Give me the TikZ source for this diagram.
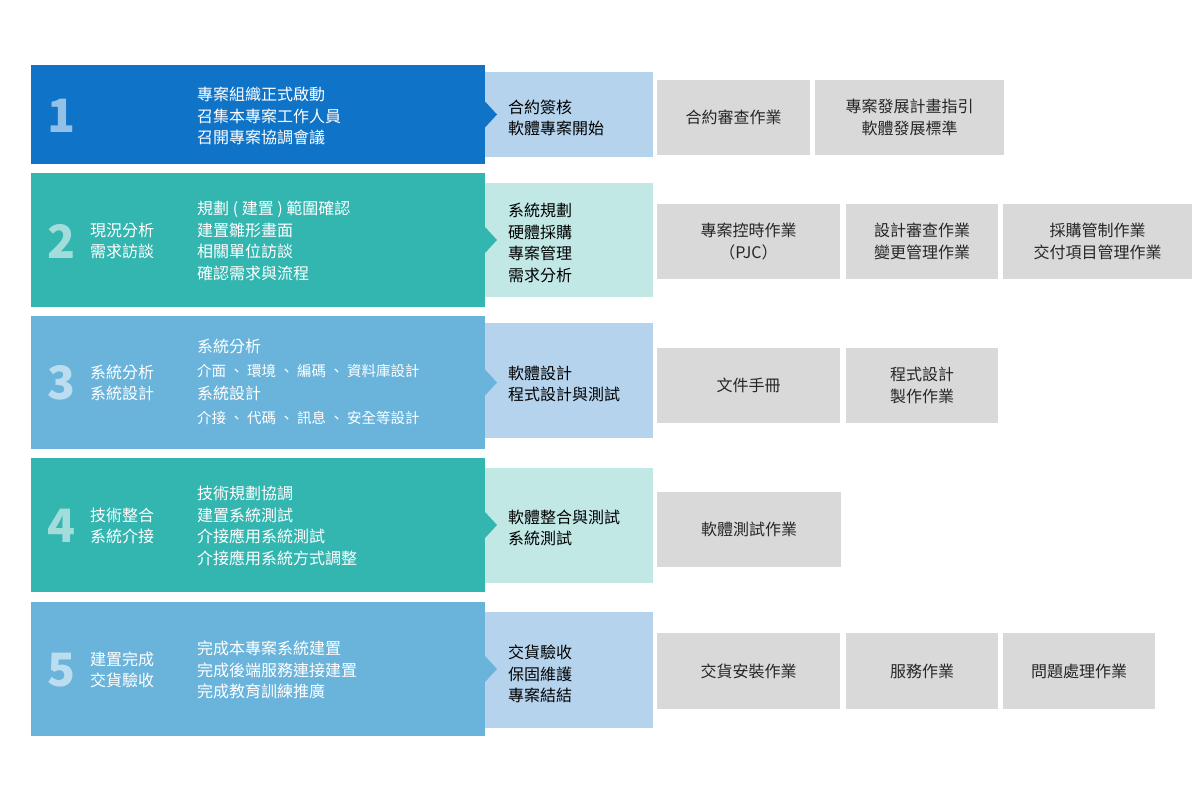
\documentclass[tikz,border=0pt]{standalone}
\usepackage{fontspec}
\setmainfont{Noto Sans CJK TC}
\begin{document}
\begin{tikzpicture}[x=1pt,y=-1pt,
 bx/.style={anchor=north west,inner sep=0pt,outer sep=0pt,draw=none},
 txt/.style={anchor=west,align=left,font=\fontsize{16}{21.5}\selectfont,inner sep=0pt},
 wt/.style={txt,text=white},
 num/.style={anchor=center,text=white,text opacity=0.55,font=\fontsize{46}{46}\selectfont\bfseries,inner sep=0pt},
 gt/.style={anchor=center,align=center,font=\fontsize{16}{21.5}\selectfont,inner sep=0pt,text=black!85}]
\definecolor{cA}{HTML}{0F74C8}\definecolor{cAl}{HTML}{B5D3EC}
\definecolor{cT}{HTML}{33B5B0}\definecolor{cTl}{HTML}{C2E8E6}
\definecolor{cS}{HTML}{6AB4DC}\definecolor{cG}{HTML}{D9D9D9}
\useasboundingbox (0,0) rectangle (1200,801);
\fill[white] (0,0) rectangle (1200,801);
% generic: \rowbox{name}{y1}{y2}{color}{light}{ly1}{ly2}
\newcommand\rowbox[7]{%
 \node[bx,fill=#4,minimum width=454pt,minimum height={#3-#2}] (#1d) at (31,#2) {};
 \node[bx,fill=#5,minimum width=168pt,minimum height={#7-#6}] (#1l) at (485,#6) {};
 \fill[#4] (485,{(#2+#3)/2-13}) -- (497,{(#2+#3)/2}) -- (485,{(#2+#3)/2+13}) -- cycle;}
\newcommand\gbox[6]{\node[bx,fill=cG,minimum width={#4-#2},minimum height={#5-#3}] (#1) at (#2,#3) {};
 \node[gt] (#1t) at (#1.center) {#6};}
\rowbox{a}{65}{164}{cA}{cAl}{72}{157}
\rowbox{b}{173}{307}{cT}{cTl}{183}{297}
\rowbox{c}{316}{449}{cS}{cAl}{323}{438}
\rowbox{d}{458}{592}{cT}{cTl}{468}{583}
\rowbox{e}{602}{736}{cS}{cAl}{612}{728}
% numbers
\node[num] (n1) at (62,116) {1};
\node[num] (n2) at (62,241) {2};
\node[num] (n3) at (62,383) {3};
\node[num] (n4) at (62,526) {4};
\node[num] (n5) at (62,670) {5};
% labels
\node[wt] (l2) at (90,241) {現況分析\\需求訪談};
\node[wt] (l3) at (90,383) {系統分析\\系統設計};
\node[wt] (l4) at (90,526) {技術整合\\系統介接};
\node[wt] (l5) at (90,670) {建置完成\\交貨驗收};
% main texts
\node[wt] (m1) at (197,116) {專案組織正式啟動\\召集本專案工作人員\\召開專案協調會議};
\node[wt] (m2) at (197,241) {規劃 ( 建置 ) 範圍確認\\建置雛形畫面\\相關單位訪談\\確認需求與流程};
\node[wt,font=\fontsize{16}{23.5}\selectfont] (m3) at (197,382) {系統分析\\{\fontsize{14.5}{23.5}\selectfont 介面 、 環境 、 編碼 、 資料庫設計}\\系統設計\\{\fontsize{14.5}{23.5}\selectfont 介接 、 代碼 、 訊息 、 安全等設計}};
\node[wt] (m4) at (197,526) {技術規劃協調\\建置系統測試\\介接應用系統測試\\介接應用系統方式調整};
\node[wt] (m5) at (197,670) {完成本專案系統建置\\完成後端服務連接建置\\完成教育訓練推廣};
% light texts
\node[txt] (s1) at (508,118) {合約簽核\\軟體專案開始};
\node[txt] (s2) at (508,243) {系統規劃\\硬體採購\\專案管理\\需求分析};
\node[txt] (s3) at (508,384) {軟體設計\\程式設計與測試};
\node[txt] (s4) at (508,528) {軟體整合與測試\\系統測試};
\node[txt] (s5) at (508,674) {交貨驗收\\保固維護\\專案結結};
% gray boxes
\gbox{g11}{657}{80}{810}{155}{合約審查作業}
\gbox{g12}{815}{80}{1004}{155}{專案發展計畫指引\\軟體發展標準}
\gbox{g21}{657}{204}{840}{279}{專案控時作業\\（PJC）}
\gbox{g22}{846}{204}{998}{279}{設計審查作業\\變更管理作業}
\gbox{g23}{1003}{204}{1192}{279}{採購管制作業\\交付項目管理作業}
\gbox{g31}{657}{348}{840}{423}{文件手冊}
\gbox{g32}{846}{348}{998}{423}{程式設計\\製作作業}
\gbox{g41}{657}{492}{841}{567}{軟體測試作業}
\gbox{g51}{657}{633}{840}{709}{交貨安裝作業}
\gbox{g52}{846}{633}{998}{709}{服務作業}
\gbox{g53}{1003}{633}{1155}{709}{問題處理作業}
\end{tikzpicture}
\end{document}
